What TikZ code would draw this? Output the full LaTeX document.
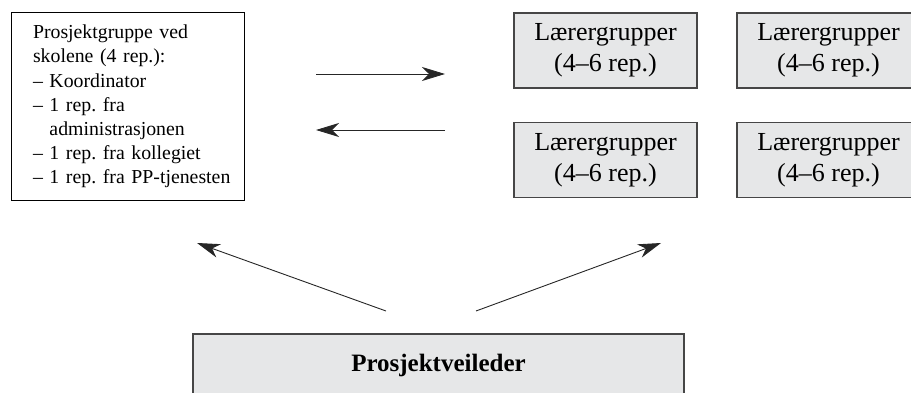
\documentclass[tikz,border=0pt]{standalone}
\usepackage{fontspec}
\setmainfont{Liberation Serif}
\frenchspacing
\usetikzlibrary{arrows.meta}
\definecolor{boxgray}{RGB}{230,231,232}
\definecolor{edgegray}{RGB}{70,70,70}
\begin{document}
\begin{tikzpicture}[x=1pt, y=-1pt,
    gruppe/.style={draw=edgegray, line width=1.3pt, fill=boxgray, minimum width=183pt,
      minimum height=75pt, inner sep=0pt, align=center, font=\fontsize{26}{31}\selectfont},
    pil/.style={draw=black!85, line width=0.9pt, -{Stealth[length=23pt, width=14pt, inset=7pt]}}]
  \useasboundingbox (0,0) rectangle (911,393);

  % prosjektgruppen ved skolene
  \node[draw, line width=1pt, minimum width=233pt, minimum height=188pt, text width=233pt,
    inner sep=0pt, align=left, font=\fontsize{19.8}{24.2}\selectfont,
    execute at begin node={\leftskip=22pt}] (pgruppe) at (127.5,106.5)
    {Prosjektgruppe ved\\ skolene (4 rep.):\\ -- Koordinator\\ -- 1 rep. fra\\
     \hphantom{--\ }administrasjonen\\ -- 1 rep. fra kollegiet\\ -- 1 rep. fra PP-tjenesten};

  % lærergruppene
  \node[gruppe] (laerer1) at (605.5,50.5) {Lærergrupper\\(4--6 rep.)};
  \node[gruppe] (laerer2) at (828.5,50.5) {Lærergrupper\\(4--6 rep.)};
  \node[gruppe] (laerer3) at (605.5,160) {Lærergrupper\\(4--6 rep.)};
  \node[gruppe] (laerer4) at (828.5,160) {Lærergrupper\\(4--6 rep.)};

  % veileder
  \node[draw=edgegray, line width=1.3pt, fill=boxgray, minimum width=491pt, minimum height=62pt,
    font=\bfseries\fontsize{25}{30}\selectfont] (veileder) at (438.5,365) {Prosjektveileder};

  % piler
  \coordinate (fram1) at (316,74);  \coordinate (fram2) at (445,74);
  \coordinate (tilb1) at (445,130); \coordinate (tilb2) at (316,130);
  \coordinate (vv1) at (386,311);   \coordinate (vv2) at (197,243);
  \coordinate (vh1) at (476,311);   \coordinate (vh2) at (661,243);
  \draw[pil] (fram1) -- (fram2);
  \draw[pil] (tilb1) -- (tilb2);
  \draw[pil] (vv1) -- (vv2);
  \draw[pil] (vh1) -- (vh2);
\end{tikzpicture}
\end{document}
